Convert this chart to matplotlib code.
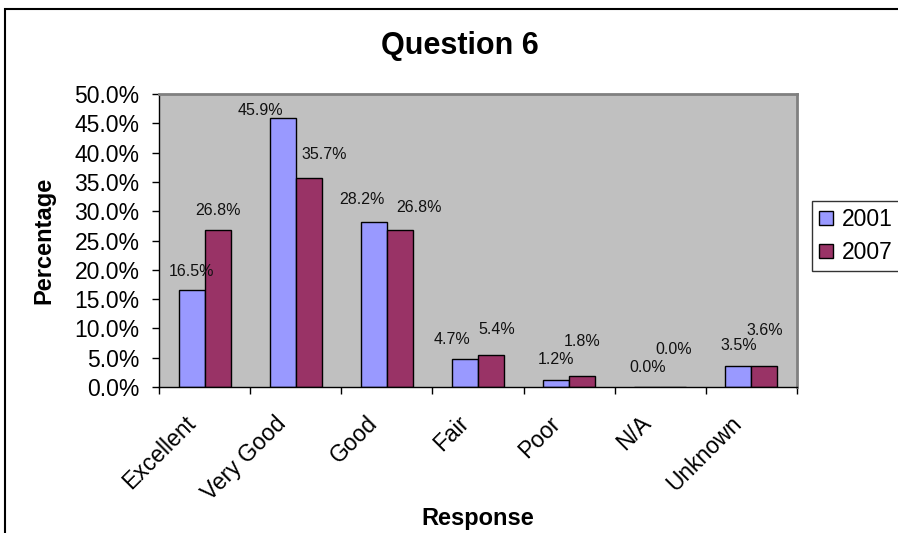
import numpy as np
import matplotlib
matplotlib.use("Agg")
import matplotlib.pyplot as plt
from matplotlib.patches import Rectangle
from matplotlib.transforms import ScaledTranslation

plt.rcParams['font.family'] = ['Liberation Sans', 'DejaVu Sans']

# data
categories = ['Excellent', 'Very Good', 'Good', 'Fair', 'Poor', 'N/A', 'Unknown']
series_names = ['2001', '2007']
values_2001 = [16.5, 45.9, 28.2, 4.7, 1.2, 0.0, 3.5]
values_2007 = [26.8, 35.7, 26.8, 5.4, 1.8, 0.0, 3.6]

# label nudges (pixels) - the labels were dragged around by hand in the original
dx_2001 = [0, -22, -12, -13, 0, 0, 0]
dy_2001 = [19, 8, 22, 20, 20, 20, 21]
dx_2007 = [0, 16, 19, 6, 0, 0, 0]
dy_2007 = [19, 23, 22, 26, 35, 38, 35]

COLOR_2001 = '#9999FF'
COLOR_2007 = '#993366'
PLOT_BG = '#C0C0C0'
W, H = 898, 533
PX = 72 / 100  # pixels -> points at dpi 100

fig = plt.figure(figsize=(W / 100, H / 100), dpi=100)
ax = fig.add_axes([159 / W, 1 - 387 / H, 638 / W, 293 / H])
ax.set_facecolor(PLOT_BG)

x = np.arange(len(categories))
bw = 0.285
bars1 = ax.bar(x - bw / 2, values_2001, bw, color=COLOR_2001, edgecolor='black',
               linewidth=1, label=series_names[0])
bars2 = ax.bar(x + bw / 2, values_2007, bw, color=COLOR_2007, edgecolor='black',
               linewidth=1, label=series_names[1])

for bars, vals, dxs, dys in [(bars1, values_2001, dx_2001, dy_2001),
                             (bars2, values_2007, dx_2007, dy_2007)]:
    for b, v, dx, dy in zip(bars, vals, dxs, dys):
        ax.annotate(f'{v:.1f}%', (b.get_x() + b.get_width() / 2, v),
                    xytext=(dx * PX, dy * PX), textcoords='offset points',
                    ha='center', va='center', fontsize=11.5, color='#111111')

ax.set_xlim(-0.5, len(categories) - 0.5)
ax.set_ylim(0, 50)
ax.set_yticks(np.arange(0, 50.1, 5))
ax.set_yticklabels([f'{t:.1f}%' for t in np.arange(0, 50.1, 5)])
ax.tick_params(axis='y', labelsize=16.5, length=5, width=1, pad=9, direction='out')

ax.set_xticks(np.arange(len(categories) + 1) - 0.5)
ax.set_xticklabels([])
ax.set_xticks(x, minor=True)
ax.set_xticklabels(categories, minor=True, rotation=45, ha='right',
                   rotation_mode='anchor', fontsize=16.5)
ax.tick_params(axis='x', which='major', length=5, width=1, direction='out')
ax.tick_params(axis='x', which='minor', length=0, pad=12)
shift = ScaledTranslation(-21 / 100, -8 / 100, fig.dpi_scale_trans)
for lbl in ax.get_xticklabels(minor=True):
    lbl.set_transform(lbl.get_transform() + shift)

for side in ['top', 'right']:
    ax.spines[side].set_color('#808080')
    ax.spines[side].set_linewidth(2)
for side in ['left', 'bottom']:
    ax.spines[side].set_color('black')
    ax.spines[side].set_linewidth(1)

fig.text(460 / W, 1 - 46 / H, 'Question 6', ha='center', va='center',
         fontsize=22, fontweight='bold')
fig.text(44 / W, 1 - 240 / H, 'Percentage', ha='center', va='center',
         rotation=90, fontsize=17, fontweight='bold')
fig.text(478 / W, 1 - 518 / H, 'Response', ha='center', va='center',
         fontsize=17, fontweight='bold')

leg = fig.legend(handles=[bars1, bars2], labels=series_names, loc='upper left',
                 bbox_to_anchor=(812 / W, 1 - 201 / H), fontsize=16.5,
                 frameon=True, fancybox=False, handlelength=0.6, handleheight=0.6,
                 handletextpad=0.4, labelspacing=0.45, borderpad=0.3,
                 borderaxespad=0)
leg.get_frame().set_edgecolor('black')
leg.get_frame().set_linewidth(1)

# outer chart border (runs off the right and bottom edges)
fig.add_artist(Rectangle((5 / W, -0.1), 1.2, 1.1 - 9 / H, transform=fig.transFigure,
                         fill=False, edgecolor='black', linewidth=1.5, clip_on=False))

fig.savefig('out.png', dpi=100)
